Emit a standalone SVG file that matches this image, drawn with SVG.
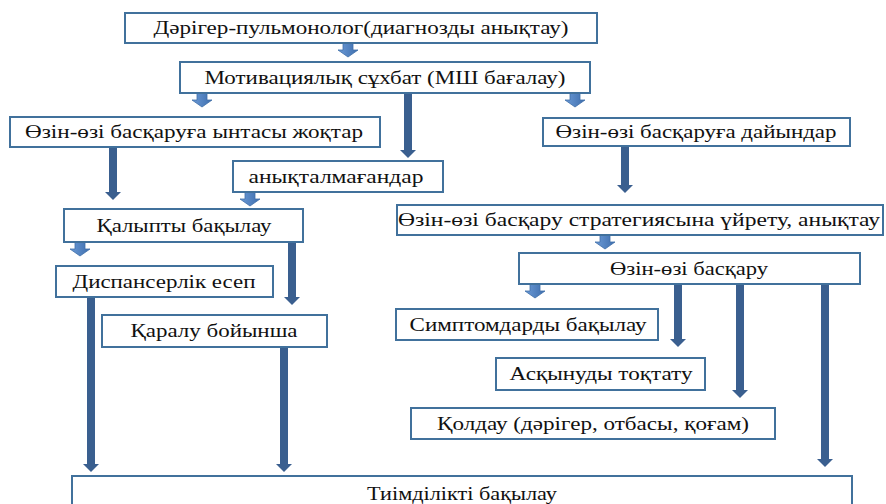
<svg xmlns="http://www.w3.org/2000/svg" width="886" height="504" viewBox="0 0 886 504" font-family="Liberation Serif, DejaVu Serif, serif">
  <style>
    .box { fill: #ffffff; stroke: #41719C; stroke-width: 2; }
    .lbl { font-size: 18px; fill: #111111; text-anchor: middle; }
    .long { stroke: #3A5F8F; stroke-width: 8; fill: none; marker-end: url(#head); }
    .short { fill: url(#sg); stroke: #3F6FA8; stroke-width: 0.8; }
  </style>
  <defs>
    <marker id="head" markerUnits="userSpaceOnUse" markerWidth="20" markerHeight="20" refX="0" refY="0" orient="auto" overflow="visible">
      <path d="M0,-8 L8,0 L0,8 Z" fill="#3A5F8F"/>
    </marker>
    <linearGradient id="sg" x1="0" y1="0" x2="1" y2="0">
      <stop offset="0" stop-color="#6B9AD6"/>
      <stop offset="1" stop-color="#3E6EAD"/>
    </linearGradient>
    <!-- short block arrow, tip 14px below its origin -->
    <path id="blk" d="M-5,0 H5 V7 H10 L0,14 L-10,7 H-5 Z"/>
  </defs>

  <g id="connectors">
    <line class="long" x1="408" y1="93" x2="408" y2="150"/>
    <line class="long" x1="113" y1="147" x2="113" y2="192"/>
    <line class="long" x1="292" y1="242" x2="292" y2="297"/>
    <line class="long" x1="625" y1="146" x2="625" y2="185"/>
    <line class="long" x1="91" y1="297" x2="91" y2="464"/>
    <line class="long" x1="284" y1="347" x2="284" y2="464"/>
    <line class="long" x1="678" y1="284" x2="678" y2="339"/>
    <line class="long" x1="740" y1="284" x2="740" y2="390"/>
    <line class="long" x1="825" y1="284" x2="825" y2="459"/>
    <use href="#blk" class="short" x="348" y="43"/>
    <use href="#blk" class="short" x="202" y="93"/>
    <use href="#blk" class="short" x="575" y="93"/>
    <use href="#blk" class="short" x="250" y="192"/>
    <use href="#blk" class="short" x="80" y="242"/>
    <use href="#blk" class="short" x="605" y="235"/>
    <use href="#blk" class="short" x="535" y="284"/>
  </g>

  <g id="n-pulmonolog">
    <rect class="box" x="125" y="13" width="472" height="30"/>
    <text class="lbl" font-family="Liberation Serif, serif" x="361" y="34" textLength="415" lengthAdjust="spacingAndGlyphs">Дәрігер-пульмонолог(диагнозды анықтау)</text>
  </g>
  <g id="n-motivation">
    <rect class="box" x="180" y="62" width="410" height="31"/>
    <text class="lbl" font-family="Liberation Serif, serif" x="385" y="84" textLength="361" lengthAdjust="spacingAndGlyphs">Мотивациялық сұхбат (МШ бағалау)</text>
  </g>
  <g id="n-no-motivation">
    <rect class="box" x="10" y="117" width="370" height="30"/>
    <text class="lbl" font-family="Liberation Serif, serif" x="194" y="138" textLength="338" lengthAdjust="spacingAndGlyphs">Өзін-өзі басқаруға ынтасы жоқтар</text>
  </g>
  <g id="n-ready">
    <rect class="box" x="543" y="118" width="307" height="28"/>
    <text class="lbl" font-family="Liberation Serif, serif" x="696" y="138" textLength="281" lengthAdjust="spacingAndGlyphs">Өзін-өзі басқаруға дайындар</text>
  </g>
  <g id="n-undefined">
    <rect class="box" x="233" y="161" width="210" height="31"/>
    <text class="lbl" font-family="Liberation Serif, serif" x="336" y="183" textLength="175" lengthAdjust="spacingAndGlyphs">анықталмағандар</text>
  </g>
  <g id="n-routine">
    <rect class="box" x="64" y="209" width="239" height="33"/>
    <text class="lbl" font-family="Liberation Serif, serif" x="184" y="232" textLength="175" lengthAdjust="spacingAndGlyphs">Қалыпты бақылау</text>
  </g>
  <g id="n-strategy">
    <rect class="box" x="397" y="205" width="486" height="30"/>
    <text class="lbl" font-family="Liberation Serif, serif" x="639" y="226" textLength="482" lengthAdjust="spacingAndGlyphs">Өзін-өзі басқару стратегиясына үйрету, анықтау</text>
  </g>
  <g id="n-self-management">
    <rect class="box" x="519" y="253" width="341" height="31"/>
    <text class="lbl" font-family="Liberation Serif, serif" x="689" y="275" textLength="158" lengthAdjust="spacingAndGlyphs">Өзін-өзі басқару</text>
  </g>
  <g id="n-dispensary">
    <rect class="box" x="56" y="266" width="217" height="31"/>
    <text class="lbl" font-family="Liberation Serif, serif" x="164" y="288" textLength="183" lengthAdjust="spacingAndGlyphs">Диспансерлік есеп</text>
  </g>
  <g id="n-on-demand">
    <rect class="box" x="102" y="315" width="225" height="32"/>
    <text class="lbl" font-family="Liberation Serif, serif" x="214" y="337" textLength="167" lengthAdjust="spacingAndGlyphs">Қаралу бойынша</text>
  </g>
  <g id="n-symptoms">
    <rect class="box" x="396" y="309" width="262" height="31"/>
    <text class="lbl" font-family="Liberation Serif, serif" x="528" y="331" textLength="237" lengthAdjust="spacingAndGlyphs">Симптомдарды бақылау</text>
  </g>
  <g id="n-exacerbation">
    <rect class="box" x="496" y="358" width="209" height="32"/>
    <text class="lbl" font-family="Liberation Serif, serif" x="601" y="380" textLength="183" lengthAdjust="spacingAndGlyphs">Асқынуды тоқтату</text>
  </g>
  <g id="n-support">
    <rect class="box" x="411" y="408" width="364" height="31"/>
    <text class="lbl" font-family="Liberation Serif, serif" x="593" y="430" textLength="312" lengthAdjust="spacingAndGlyphs">Қолдау (дәрігер, отбасы, қоғам)</text>
  </g>
  <g id="n-effectiveness">
    <rect class="box" x="72" y="476" width="780" height="40"/>
    <text class="lbl" font-family="Liberation Serif, serif" x="462" y="500" textLength="190" lengthAdjust="spacingAndGlyphs">Тиімділікті бақылау</text>
  </g>
</svg>
